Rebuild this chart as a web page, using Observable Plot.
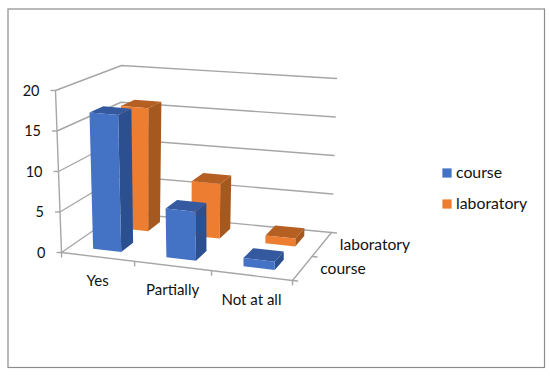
<!DOCTYPE html>
<html><head><meta charset="utf-8">
<script src="https://cdn.jsdelivr.net/npm/d3@7"></script>
<script src="https://cdn.jsdelivr.net/npm/@observablehq/plot@0.6"></script>
<style>html,body{margin:0;padding:0;background:#fff}svg{display:block}</style>
</head><body><div id="chart"></div>
<script>
const categories = ["Yes", "Partially", "Not at all"];
const seriesNames = ["course", "laboratory"];
const course = [17, 6, 1];
const laboratory = [16, 7, 1];
const valueTicks = [0, 5, 10, 15, 20];
const faceColors = {
  course: {front: "#4472C4", side: "#2B4F8F", top: "#34599F"},
  laboratory: {front: "#ED7D31", side: "#A5591F", top: "#B55F22"}
};
const gridColor = "#A6A6A6";
// The 3-D box as seen on the page: [u, depth, value] corners -> page position
const corners = {
  f0L: [61, 252], f0R: [292, 280], b0L: [119, 212], b0R: [331, 232],
  f1L: [55, 90], f1R: [291, 111], b1L: [121, 65], b1R: [336, 78]
};
const valueMax = 20;
const perspective = 1.08;
function project(u, d, v) {
  const r = u / categories.length;
  const s = r / (r + perspective * (1 - r)), w = v / valueMax;
  const mix = (a, b, t) => [a[0] + (b[0] - a[0]) * t, a[1] + (b[1] - a[1]) * t];
  const f0 = mix(corners.f0L, corners.f0R, s), b0 = mix(corners.b0L, corners.b0R, s);
  const f1 = mix(corners.f1L, corners.f1R, s), b1 = mix(corners.b1L, corners.b1R, s);
  const p = mix(mix(f0, b0, d), mix(f1, b1, d), w);
  return {x: p[0], y: p[1]};
}
const barU = 0.195, barD = 0.11, uShift = 0.51, depthAt = i => 0.27 + i * 0.5;

// bar faces
const faces = [];
[["laboratory", laboratory, 1], ["course", course, 0]].forEach(([name, vals, si]) => {
  vals.forEach((v, i) => {
    const u0 = i + uShift - barU, u1 = i + uShift + barU;
    const d0 = depthAt(si) - barD, d1 = depthAt(si) + barD;
    const c = faceColors[name];
    const add = (part, pts) => pts.forEach(q => faces.push({id: `${name}-${i}-${part}`, fill: c[part], ...project(...q)}));
    add("side", [[u1,d0,0],[u1,d1,0],[u1,d1,v],[u1,d0,v]]);
    add("top", [[u0,d0,v],[u1,d0,v],[u1,d1,v],[u0,d1,v]]);
    add("front", [[u0,d0,0],[u1,d0,0],[u1,d0,v],[u0,d0,v]]);
  });
});
// gridlines
const grid = [];
valueTicks.forEach(v => [[0,0],[0,1],[3,1]].forEach(([u,d]) => grid.push({id: "g" + v, ...project(u,d,v)})));
[[0,0],[3,0]].forEach(([u,d]) => grid.push({id: "front", ...project(u,d,0)}));
[[3,0],[3,1]].forEach(([u,d]) => grid.push({id: "right", ...project(u,d,0)}));
[0,.5,1].forEach(d => {
  const p = project(3,d,0);
  grid.push({id: "t" + d, ...p}, {id: "t" + d, x: p.x + 5, y: p.y + .5});
});
[0,20].forEach(v => grid.push({id: "axis", ...project(0,0,v)}));

const yLabels = valueTicks.map(v => ({t: String(v), ...project(0,0,v)}));
const xTicks = [0,1,2,3].map(u => project(u,0,0));
const xLabels = categories.map((t,i) => ({t, ...project(i+.5,0,0)}));
const dLabels = seriesNames.map((t,i) => ({t, ...project(3,.25+.5*i,0)}));
const legend = seriesNames.map((t,i) => ({t, c: faceColors[t].front, x: 446.5, y: 172.5 + i*31}));
const font = "Lato, Carlito, sans-serif";

const plot = Plot.plot({
  width: 550, height: 377, margin: 0,
  x: {domain: [0,550], range: [0,550], axis: null},
  y: {domain: [0,377], range: [0,377], axis: null},
  color: {type: "identity"},
  style: {fontFamily: font, background: "#fff"},
  marks: [
    Plot.frame({stroke: "#8C8C8C", strokeWidth: 1.2, insetLeft: 7.5, insetRight: 6, insetTop: 8.5, insetBottom: 10}),
    Plot.line(grid, {x: "x", y: "y", z: "id", stroke: gridColor, strokeWidth: 1.4, curve: "linear"}),
    Plot.link(yLabels, {x1: "x", y1: "y", x2: d => d.x - 5, y2: "y", stroke: gridColor, strokeWidth: 1.4}),
    Plot.link(xTicks, {x1: "x", y1: "y", x2: "x", y2: d => d.y + 5, stroke: gridColor, strokeWidth: 1.4}),
    Plot.line(faces, {x: "x", y: "y", z: "id", fill: "fill", stroke: "none", curve: "linear"}),
    Plot.text(yLabels, {x: "x", y: "y", text: "t", dx: -16, dy: 0.5, textAnchor: "end", fontSize: 14.5, fontVariant: "lining-nums", fill: "#111"}),
    Plot.text(xLabels, {x: "x", y: "y", text: "t", dy: 24.7, fontSize: 15, fill: "#111"}),
    Plot.text(dLabels, {x: "x", y: "y", text: "t", dx: 18, textAnchor: "start", fontSize: 15.6, fill: "#111"}),
    Plot.dot(legend, {x: "x", y: "y", symbol: "square", r: 5.2, fill: "c", stroke: "none"}),
    Plot.text(legend, {x: "x", y: "y", text: "t", dx: 9, textAnchor: "start", fontSize: 15.8, fill: "#111"})
  ]
});
document.getElementById("chart").append(plot);
</script></body></html>
